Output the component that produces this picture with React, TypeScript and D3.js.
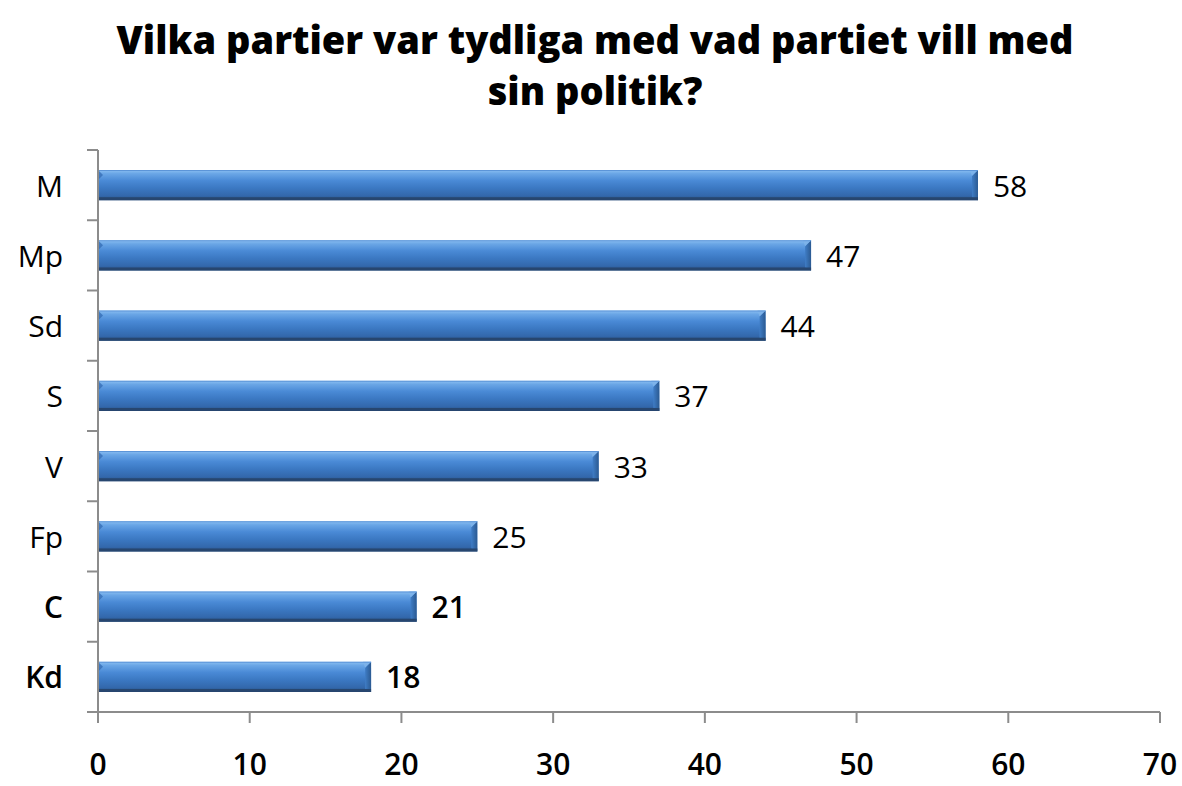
import React from "react";
import * as d3 from "d3";

const categories = ["M", "Mp", "Sd", "S", "V", "Fp", "C", "Kd"];
const values = [58, 47, 44, 37, 33, 25, 21, 18];
const xTicks = [0, 10, 20, 30, 40, 50, 60, 70];
const titleLines = ["Vilka partier var tydliga med vad partiet vill med", "sin politik?"];

const W = 1182;
const H = 786;

export default function App() {
  const x = d3.scaleLinear().domain([0, 70]).range([98, 1160]);
  const y = d3
    .scaleBand<string>()
    .domain(categories)
    .range([150, 712])
    .paddingInner(0.57)
    .paddingOuter(0.285);
  const step = y.step();
  const bw = y.bandwidth();
  const boundaries = d3.range(categories.length + 1).map((i) => 150 + i * step);
  const font = "'Open Sans', 'DejaVu Sans', sans-serif";
  const axisColor = "#8c8c8c";

  return (
    <svg
      width={W}
      height={H}
      style={{ position: "absolute", left: 0, top: 0, background: "#fff" }}
    >
      <defs>
        <linearGradient id="barGrad" x1="0" y1="0" x2="0" y2="1">
          <stop offset="0" stopColor="#8cc0f2" />
          <stop offset="0.12" stopColor="#6aa6e6" />
          <stop offset="0.35" stopColor="#4a8ad6" />
          <stop offset="0.6" stopColor="#3b78c2" />
          <stop offset="0.85" stopColor="#3368ac" />
          <stop offset="1" stopColor="#2a5488" />
        </linearGradient>
        <linearGradient id="capGrad" x1="0" y1="0" x2="1" y2="0">
          <stop offset="0" stopColor="#3f7dc6" />
          <stop offset="1" stopColor="#2b5a92" />
        </linearGradient>
      </defs>

      {titleLines.map((t, i) => (
        <text
          key={i}
          x={595}
          y={54 + i * 51}
          textAnchor="middle"
          fontFamily={font}
          fontWeight={800}
          fontSize={38}
          fill="#000"
        >
          {t}
        </text>
      ))}

      {/* bars */}
      {categories.map((c, i) => {
        const y0 = y(c)!;
        const x0 = x(0);
        const x1 = x(values[i]);
        const cap = 6;
        return (
          <g key={c}>
            <rect x={x0} y={y0} width={x1 - x0} height={bw} fill="url(#barGrad)" />
            <polygon
              points={`${x1 - cap},${y0 + cap} ${x1},${y0} ${x1},${y0 + bw} ${x1 - cap},${y0 + bw - 3}`}
              fill="url(#capGrad)"
            />
            <polygon
              points={`${x1 - cap},${y0 + cap} ${x1},${y0} ${x1 - cap - 2},${y0}`}
              fill="#7fb4ea"
              opacity={0.8}
            />
            <polygon
              points={`${x0},${y0} ${x0 + 5},${y0 + 5} ${x0},${y0 + 10}`}
              fill="#3068b0"
              opacity={0.7}
            />
            <rect x={x0} y={y0 + bw - 3} width={x1 - x0} height={3} fill="#27466f" />
            <rect x={x0} y={y0} width={x1 - x0} height={1} fill="#5c95d8" />
            <text
              x={x1 + 15}
              y={y0 + bw / 2}
              dominantBaseline="central"
              fontFamily={font}
              fontWeight={i >= 6 ? 600 : 400}
              fontSize={30}
              fill="#000"
            >
              {values[i]}
            </text>
            <text
              x={63}
              y={y0 + bw / 2}
              dominantBaseline="central"
              textAnchor="end"
              fontFamily={font}
              fontWeight={i >= 6 ? 600 : 400}
              fontSize={30}
              fill="#000"
            >
              {c}
            </text>
          </g>
        );
      })}

      {/* y axis */}
      <line x1={98} x2={98} y1={150} y2={712} stroke={axisColor} strokeWidth={2} />
      {boundaries.map((b, i) => (
        <line key={i} x1={87} x2={98} y1={b} y2={b} stroke={axisColor} strokeWidth={2} />
      ))}

      {/* x axis */}
      <line x1={x(0)} x2={x(70)} y1={712} y2={712} stroke={axisColor} strokeWidth={2} />
      {xTicks.map((t) => (
        <g key={t}>
          <line x1={x(t)} x2={x(t)} y1={712} y2={723} stroke={axisColor} strokeWidth={2} />
          <text
            x={x(t)}
            y={775}
            textAnchor="middle"
            fontFamily={font}
            fontWeight={600}
            fontSize={30}
            fill="#000"
          >
            {t}
          </text>
        </g>
      ))}
    </svg>
  );
}
